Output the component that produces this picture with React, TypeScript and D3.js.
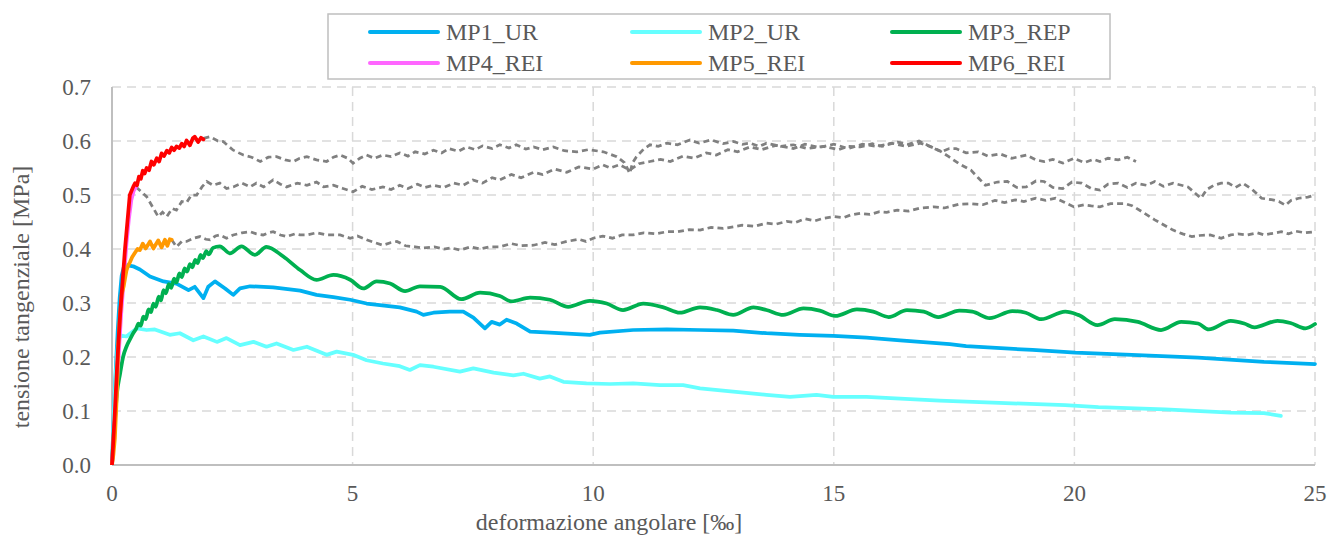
import React from "react";
import * as d3 from "d3";

type P = [number, number];

const xTicks = [0, 5, 10, 15, 20, 25];
const yTicks = [0, 0.1, 0.2, 0.3, 0.4, 0.5, 0.6, 0.7];

const seriesNames = ["MP1_UR", "MP2_UR", "MP3_REP", "MP4_REI", "MP5_REI", "MP6_REI"];
const seriesColors = ["#00B0F0", "#66FFFF", "#00B050", "#FF66FF", "#FF9900", "#FF0000"];

const mp1: P[] = [[0,0],[0.04,0.10],[0.08,0.18],[0.12,0.25],[0.16,0.31],[0.2,0.35],[0.25,0.368],[0.30,0.370],[0.44,0.368],[0.58,0.362],[0.79,0.349],[1.07,0.340],[1.34,0.336],[1.59,0.324],[1.72,0.330],[1.90,0.309],[2.0,0.330],[2.14,0.340],[2.35,0.327],[2.52,0.315],[2.66,0.327],[2.87,0.331],[3.35,0.329],[3.91,0.323],[4.25,0.315],[4.60,0.311],[4.95,0.306],[5.29,0.299],[5.98,0.292],[6.33,0.284],[6.47,0.278],[6.68,0.282],[7.02,0.284],[7.30,0.284],[7.51,0.273],[7.75,0.253],[7.89,0.265],[8.06,0.260],[8.20,0.269],[8.41,0.262],[8.69,0.247],[9.10,0.245],[9.93,0.241],[10.14,0.245],[10.83,0.250],[11.53,0.251],[12.22,0.250],[12.91,0.249],[13.6,0.244],[14.29,0.241],[14.99,0.239],[15.68,0.236],[16.38,0.231],[17.41,0.224],[17.75,0.220],[19.13,0.213],[20.02,0.208],[21.19,0.204],[22.57,0.199],[23.94,0.191],[25.0,0.187]];

const mp2: P[] = [[0,0],[0.04,0.10],[0.08,0.17],[0.12,0.22],[0.17,0.240],[0.30,0.238],[0.51,0.253],[0.72,0.250],[0.89,0.251],[1.2,0.241],[1.41,0.244],[1.69,0.231],[1.90,0.238],[2.18,0.228],[2.38,0.235],[2.66,0.222],[2.94,0.228],[3.21,0.219],[3.42,0.225],[3.77,0.213],[4.05,0.219],[4.46,0.204],[4.67,0.210],[5.01,0.204],[5.29,0.194],[5.63,0.188],[5.98,0.183],[6.19,0.176],[6.40,0.185],[6.68,0.182],[7.23,0.173],[7.51,0.179],[7.93,0.171],[8.34,0.166],[8.55,0.169],[8.89,0.160],[9.1,0.164],[9.38,0.154],[9.86,0.151],[10.35,0.150],[10.83,0.151],[11.39,0.148],[11.87,0.148],[12.22,0.142],[12.91,0.136],[13.6,0.130],[14.09,0.126],[14.64,0.130],[14.99,0.126],[15.68,0.126],[16.38,0.123],[17.2,0.119],[18.44,0.115],[19.81,0.111],[20.5,0.107],[21.88,0.103],[23.25,0.097],[23.94,0.096],[24.29,0.091]];

const mp3: P[] = [[0,0],[0.03,0.05],[0.06,0.083],[0.1,0.13],[0.17,0.17],[0.23,0.2],[0.30,0.219],[0.37,0.232],[0.44,0.244],[0.50,0.252],[0.55,0.262],[0.60,0.258],[0.65,0.275],[0.70,0.270],[0.76,0.288],[0.81,0.283],[0.86,0.299],[0.91,0.293],[0.97,0.312],[1.02,0.305],[1.07,0.324],[1.12,0.318],[1.18,0.335],[1.23,0.328],[1.29,0.345],[1.34,0.338],[1.40,0.355],[1.45,0.348],[1.51,0.364],[1.56,0.358],[1.62,0.372],[1.67,0.366],[1.73,0.380],[1.78,0.374],[1.84,0.389],[1.89,0.383],[1.96,0.396],[2.01,0.390],[2.10,0.402],[2.24,0.405],[2.45,0.392],[2.69,0.405],[2.97,0.389],[3.21,0.404],[3.56,0.386],[3.91,0.361],[4.25,0.343],[4.60,0.352],[4.95,0.343],[5.22,0.327],[5.50,0.340],[5.78,0.336],[6.09,0.322],[6.40,0.331],[6.82,0.330],[7.26,0.307],[7.65,0.319],[8.06,0.313],[8.30,0.303],[8.69,0.310],[9.10,0.306],[9.48,0.293],[9.93,0.304],[10.28,0.299],[10.62,0.287],[11.04,0.299],[11.46,0.292],[11.80,0.282],[12.22,0.292],[12.57,0.287],[12.91,0.278],[13.33,0.292],[13.60,0.287],[13.95,0.278],[14.37,0.290],[14.71,0.286],[15.03,0.276],[15.48,0.288],[15.82,0.284],[16.14,0.274],[16.52,0.287],[16.87,0.284],[17.17,0.274],[17.61,0.286],[17.88,0.284],[18.24,0.272],[18.71,0.285],[18.99,0.282],[19.31,0.270],[19.81,0.284],[20.08,0.278],[20.48,0.259],[20.84,0.270],[21.32,0.265],[21.80,0.250],[22.22,0.265],[22.57,0.262],[22.79,0.251],[23.25,0.267],[23.53,0.262],[23.74,0.255],[24.22,0.267],[24.49,0.263],[24.80,0.253],[25.0,0.261]];

const mp4: P[] = [[0,0],[0.07,0.10],[0.13,0.19],[0.19,0.28],[0.25,0.35],[0.30,0.41],[0.35,0.455],[0.40,0.49],[0.45,0.508],[0.50,0.515]];

const mp5: P[] = [[0,0],[0.03,0.02],[0.06,0.05],[0.10,0.13],[0.13,0.22],[0.16,0.27],[0.2,0.315],[0.24,0.33],[0.27,0.345],[0.30,0.360],[0.33,0.368],[0.37,0.375],[0.42,0.385],[0.47,0.392],[0.53,0.400],[0.58,0.398],[0.64,0.410],[0.70,0.401],[0.79,0.414],[0.86,0.401],[0.96,0.416],[1.03,0.403],[1.10,0.417],[1.15,0.406],[1.20,0.418],[1.24,0.417]];

const mp6: P[] = [[0,0],[0.06,0.10],[0.11,0.19],[0.17,0.28],[0.22,0.34],[0.27,0.40],[0.32,0.45],[0.37,0.50],[0.44,0.515],[0.48,0.522],[0.52,0.518],[0.56,0.534],[0.60,0.530],[0.64,0.545],[0.68,0.540],[0.72,0.550],[0.77,0.546],[0.82,0.562],[0.87,0.556],[0.93,0.568],[0.98,0.562],[1.03,0.577],[1.08,0.572],[1.14,0.582],[1.19,0.578],[1.24,0.588],[1.29,0.583],[1.34,0.590],[1.40,0.587],[1.45,0.595],[1.50,0.590],[1.55,0.601],[1.62,0.592],[1.68,0.605],[1.72,0.608],[1.79,0.598],[1.85,0.606],[1.90,0.603]];

const extA: P[] = [[1.90,0.605],[2.04,0.608],[2.2,0.600],[2.31,0.599],[2.52,0.583],[2.73,0.574],[2.9,0.570],[3.08,0.562],[3.25,0.570],[3.42,0.571],[3.6,0.565],[3.77,0.562],[3.9,0.568],[4.05,0.571],[4.25,0.565],[4.46,0.562],[4.6,0.570],[4.74,0.574],[4.9,0.568],[5.01,0.559],[5.15,0.568],[5.29,0.574],[5.45,0.568],[5.63,0.574],[5.8,0.571],[5.98,0.578],[6.15,0.572],[6.3,0.580],[6.5,0.576],[6.68,0.583],[6.85,0.578],[7.0,0.586],[7.2,0.581],[7.37,0.589],[7.55,0.584],[7.7,0.591],[7.9,0.586],[8.06,0.593],[8.25,0.587],[8.4,0.593],[8.6,0.585],[8.76,0.589],[8.95,0.584],[9.17,0.589],[9.4,0.582],[9.66,0.580],[9.9,0.584],[10.21,0.580],[10.49,0.571],[10.65,0.56],[10.76,0.540],[10.82,0.56],[10.90,0.571],[11.05,0.585],[11.18,0.593],[11.35,0.590],[11.53,0.596],[11.75,0.593],[12.01,0.602],[12.2,0.596],[12.45,0.602],[12.7,0.595],[12.91,0.599],[13.1,0.594],[13.26,0.596],[13.45,0.590],[13.6,0.596],[13.9,0.590],[14.16,0.593],[14.45,0.586],[14.79,0.590],[15.1,0.584],[15.3,0.590],[15.55,0.589],[15.8,0.595],[16.0,0.590],[16.32,0.598],[16.55,0.594],[16.77,0.600],[17.0,0.590],[17.23,0.580],[17.4,0.586],[17.54,0.586],[17.75,0.578],[18.0,0.580],[18.2,0.572],[18.46,0.576],[18.7,0.568],[19.0,0.574],[19.2,0.565],[19.37,0.562],[19.55,0.566],[19.76,0.559],[19.99,0.568],[20.2,0.560],[20.4,0.566],[20.53,0.562],[20.7,0.568],[20.91,0.565],[21.1,0.570],[21.28,0.562]];

const extB: P[] = [[0.50,0.515],[0.72,0.497],[0.96,0.460],[1.05,0.468],[1.14,0.460],[1.25,0.475],[1.34,0.472],[1.45,0.488],[1.55,0.486],[1.65,0.500],[1.76,0.500],[1.87,0.515],[1.97,0.525],[2.1,0.518],[2.24,0.522],[2.38,0.512],[2.52,0.515],[2.7,0.522],[2.87,0.515],[3.0,0.522],[3.15,0.515],[3.35,0.528],[3.5,0.520],[3.63,0.515],[3.85,0.522],[4.05,0.518],[4.25,0.524],[4.4,0.515],[4.6,0.518],[4.8,0.512],[5.01,0.506],[5.2,0.516],[5.4,0.510],[5.63,0.515],[5.8,0.510],[5.98,0.518],[6.15,0.512],[6.35,0.520],[6.5,0.514],[6.68,0.518],[6.9,0.514],[7.1,0.522],[7.3,0.518],[7.5,0.528],[7.7,0.522],[7.9,0.532],[8.06,0.528],[8.3,0.538],[8.5,0.532],[8.76,0.542],[8.95,0.538],[9.2,0.548],[9.45,0.542],[9.7,0.552],[10.0,0.548],[10.2,0.556],[10.35,0.550],[10.55,0.556],[10.76,0.546],[10.95,0.558],[11.18,0.562],[11.4,0.566],[11.6,0.562],[11.87,0.572],[12.1,0.568],[12.35,0.578],[12.56,0.574],[12.8,0.584],[13.0,0.580],[13.26,0.589],[13.5,0.584],[13.8,0.592],[14.16,0.586],[14.4,0.594],[14.7,0.588],[15.0,0.594],[15.3,0.586],[15.6,0.594],[15.9,0.590],[16.2,0.596],[16.5,0.590],[16.8,0.596],[17.0,0.590],[17.2,0.582],[17.39,0.571],[17.6,0.558],[17.85,0.546],[18.0,0.532],[18.15,0.518],[18.4,0.524],[18.61,0.525],[18.8,0.514],[19.0,0.515],[19.2,0.526],[19.37,0.525],[19.55,0.514],[19.76,0.512],[19.95,0.524],[20.15,0.522],[20.35,0.512],[20.53,0.509],[20.7,0.520],[20.91,0.522],[21.1,0.514],[21.28,0.522],[21.5,0.518],[21.67,0.525],[21.85,0.516],[22.05,0.522],[22.36,0.515],[22.63,0.494],[22.75,0.510],[22.9,0.518],[23.05,0.522],[23.2,0.522],[23.35,0.514],[23.5,0.522],[23.7,0.510],[23.89,0.494],[24.12,0.491],[24.25,0.488],[24.39,0.481],[24.5,0.49],[24.66,0.494],[24.85,0.496],[25.0,0.5]];

const extC: P[] = [[1.24,0.417],[1.34,0.404],[1.45,0.414],[1.55,0.414],[1.7,0.420],[1.83,0.423],[1.95,0.418],[2.04,0.417],[2.15,0.424],[2.24,0.426],[2.38,0.420],[2.52,0.426],[2.7,0.430],[2.87,0.432],[3.0,0.428],[3.14,0.426],[3.25,0.430],[3.35,0.432],[3.5,0.426],[3.63,0.423],[3.8,0.428],[3.91,0.426],[4.05,0.426],[4.25,0.430],[4.46,0.426],[4.6,0.426],[4.74,0.426],[4.95,0.420],[5.1,0.424],[5.29,0.417],[5.45,0.412],[5.63,0.407],[5.8,0.412],[5.92,0.414],[6.1,0.406],[6.3,0.404],[6.46,0.402],[6.7,0.404],[6.9,0.400],[7.05,0.402],[7.23,0.398],[7.45,0.404],[7.65,0.400],[7.85,0.404],[8.06,0.404],[8.3,0.410],[8.5,0.406],[8.76,0.407],[9.0,0.412],[9.2,0.408],[9.45,0.414],[9.7,0.418],[9.85,0.414],[10.0,0.420],[10.2,0.424],[10.4,0.420],[10.6,0.426],[10.83,0.426],[11.05,0.430],[11.3,0.428],[11.53,0.432],[11.75,0.432],[12.0,0.436],[12.22,0.435],[12.45,0.440],[12.7,0.438],[12.91,0.441],[13.1,0.444],[13.35,0.442],[13.6,0.448],[13.8,0.446],[14.02,0.451],[14.2,0.449],[14.4,0.456],[14.6,0.452],[14.79,0.457],[15.0,0.460],[15.2,0.458],[15.35,0.463],[15.55,0.466],[15.75,0.464],[15.95,0.469],[16.1,0.468],[16.32,0.472],[16.55,0.470],[16.8,0.476],[17.08,0.478],[17.3,0.476],[17.6,0.483],[17.85,0.484],[18.1,0.482],[18.35,0.490],[18.55,0.486],[18.77,0.491],[18.95,0.488],[19.2,0.494],[19.4,0.490],[19.61,0.494],[19.8,0.486],[19.99,0.478],[20.2,0.482],[20.35,0.480],[20.53,0.478],[20.75,0.484],[21.05,0.484],[21.2,0.480],[21.28,0.476],[21.67,0.454],[22.05,0.435],[22.25,0.428],[22.44,0.423],[22.6,0.425],[22.82,0.426],[23.05,0.420],[23.25,0.426],[23.4,0.428],[23.59,0.426],[23.8,0.430],[23.95,0.426],[24.12,0.429],[24.3,0.432],[24.45,0.428],[24.6,0.433],[24.8,0.430],[25.0,0.432]];

const seriesData: P[][] = [mp1, mp2, mp3, mp4, mp5, mp6];
const extensions: P[][] = [extA, extB, extC];

const W = 1331;
const H = 536;
const left = 112, right = 1315, top = 87, bottom = 465;
const FONT = "Liberation Serif, Times New Roman, DejaVu Serif, serif";
const TXT = "#595959";
const textStyle: React.CSSProperties = { fontFamily: FONT };

export default function App() {
  const x = d3.scaleLinear().domain([0, 25]).range([left, right]);
  const y = d3.scaleLinear().domain([0, 0.7]).range([bottom, top]);
  const lin = d3.line<P>().x(d => x(d[0])).y(d => y(d[1]));
  const smooth = d3.line<P>().x(d => x(d[0])).y(d => y(d[1])).curve(d3.curveMonotoneX);

  const legendCols = [370, 632, 892];
  const legendRows = [32, 63];

  return (
    <svg width={W} height={H} style={{ position: "absolute", left: 0, top: 0, background: "#fff", fontFamily: FONT }}>
      <rect x={0} y={0} width={W} height={H} fill="#fff" />
      {yTicks.filter(t => t > 0).map(t => (
        <line key={"gy" + t} x1={left} x2={right} y1={y(t)} y2={y(t)} stroke="#D9D9D9" strokeWidth={1.5} strokeDasharray="9,6" />
      ))}
      {xTicks.filter(t => t > 0).map(t => (
        <line key={"gx" + t} x1={x(t)} x2={x(t)} y1={top} y2={bottom} stroke="#D9D9D9" strokeWidth={1.5} strokeDasharray="9,6" />
      ))}
      <line x1={left} x2={left} y1={top} y2={bottom} stroke="#BFBFBF" strokeWidth={2} />
      <line x1={left} x2={right} y1={bottom} y2={bottom} stroke="#BFBFBF" strokeWidth={2} />
      {yTicks.map(t => (
        <text key={"ty" + t} x={91} y={y(t)} dy="0.35em" textAnchor="end" style={textStyle} fontSize={23} fill={TXT}>{t.toFixed(1)}</text>
      ))}
      {xTicks.map(t => (
        <text key={"tx" + t} x={x(t)} y={501} textAnchor="middle" style={textStyle} fontSize={23} fill={TXT}>{t}</text>
      ))}
      <text x={609} y={530} textAnchor="middle" style={textStyle} fontSize={24} fill={TXT}>deformazione angolare [‰]</text>
      <text transform="translate(29,297) rotate(-90)" textAnchor="middle" style={textStyle} fontSize={24} fill={TXT}>tensione tangenziale [MPa]</text>
      <defs>
        <clipPath id="clip">
          <rect x={left - 3} y={top - 5} width={right - left + 6} height={bottom - top + 5} />
        </clipPath>
      </defs>
      <g clipPath="url(#clip)">
        {extensions.map((s, i) => (
          <path key={"e" + i} d={lin(s) || ""} fill="none" stroke="#808080" strokeWidth={2.75} strokeDasharray="6,4" />
        ))}
        {seriesData.map((s, i) => (
          <path key={"s" + i} d={(i === 2 ? smooth(s) : lin(s)) || ""} fill="none" stroke={seriesColors[i]} strokeWidth={3.75} strokeLinejoin="round" strokeLinecap="round" />
        ))}
      </g>
      <rect x={328} y={14} width={782} height={65} fill="#fff" stroke="#BFBFBF" strokeWidth={1.5} />
      {seriesNames.map((n, i) => {
        const cx = legendCols[i % 3];
        const cy = legendRows[Math.floor(i / 3)];
        return (
          <g key={"l" + i}>
            <line x1={cx} x2={cx + 68} y1={cy} y2={cy} stroke={seriesColors[i]} strokeWidth={4} strokeLinecap="round" />
            <text x={cx + 76} y={cy} dy="0.35em" style={textStyle} fontSize={24} fill={TXT}>{n}</text>
          </g>
        );
      })}
    </svg>
  );
}
